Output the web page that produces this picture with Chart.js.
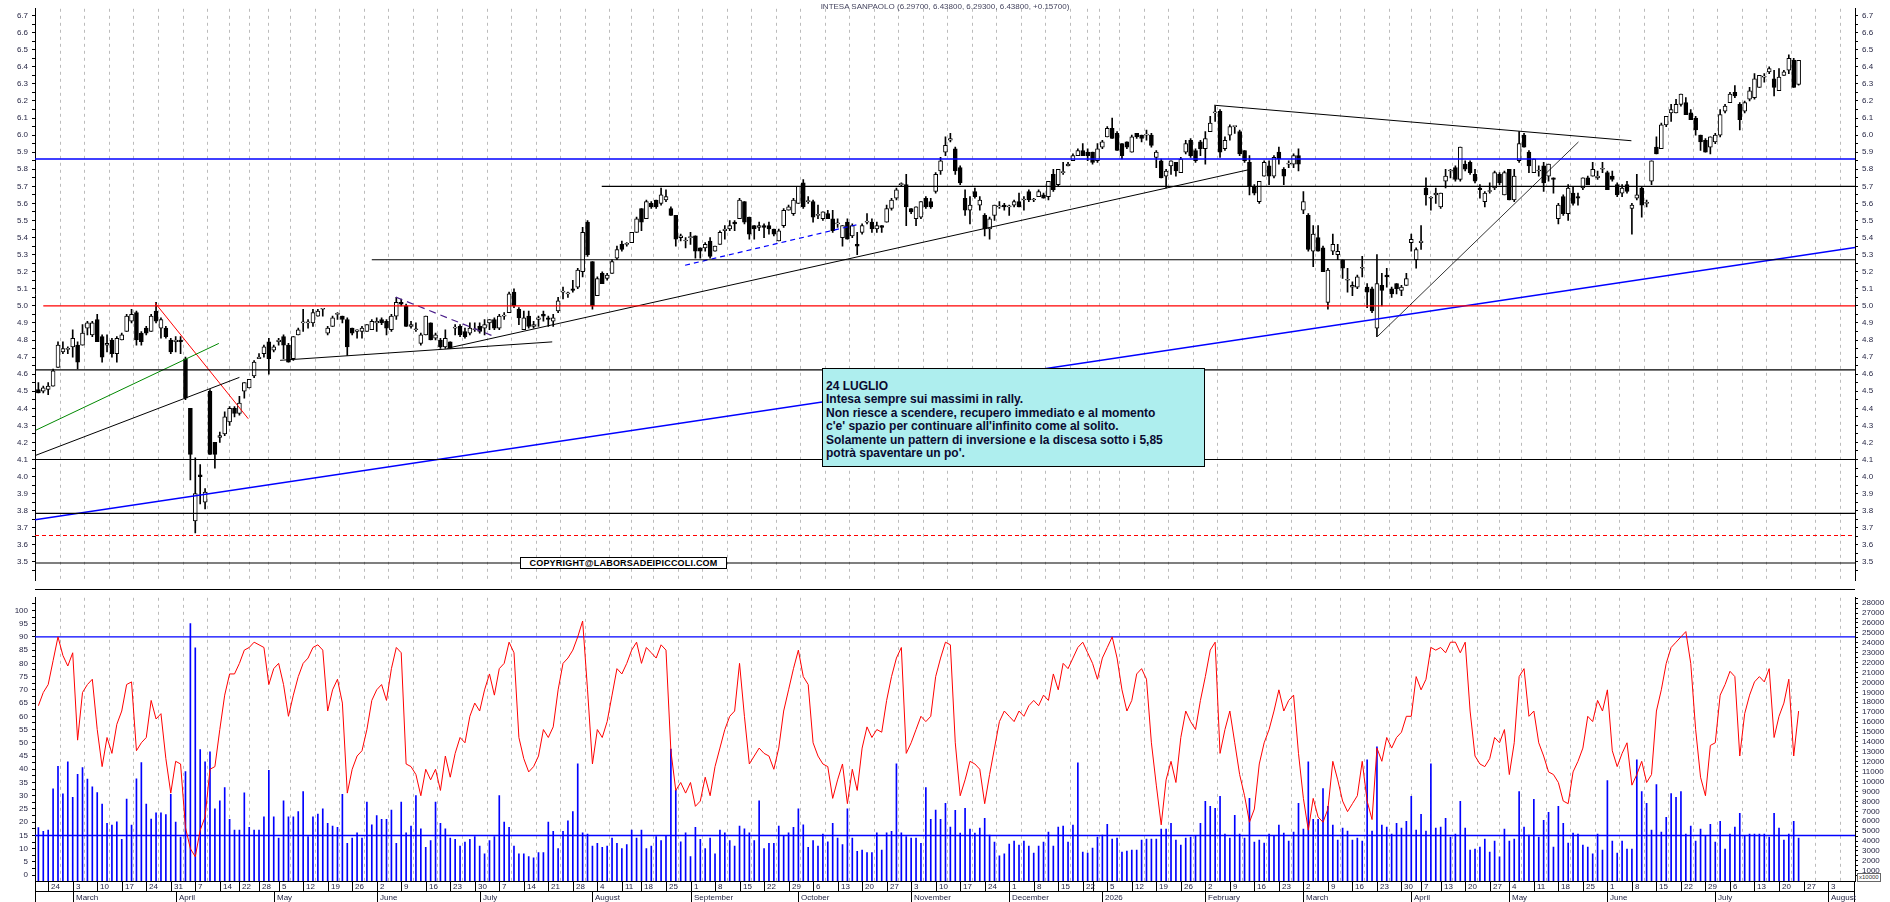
<!DOCTYPE html>
<html>
<head>
<meta charset="utf-8">
<title>Intesa Sanpaolo</title>
<script src="https://cdn.jsdelivr.net/npm/chart.js@4.4.1/dist/chart.umd.min.js"></script>
<style>
html, body { margin: 0; padding: 0; background: #fff; }
#wrap { position: relative; width: 1890px; height: 902px; overflow: hidden; background: #fff; }
#cTop { position: absolute; left: 0; top: 0; }
#cBot { position: absolute; left: 0; top: 589px; }
#title { position: absolute; left: 35px; top: 2px; width: 1820px; text-align: center;
         font: 8px "Liberation Sans", Arial, sans-serif; color: #44445e; }
#note { position: absolute; left: 822px; top: 368px; width: 383px; height: 99px; box-sizing: border-box;
        border: 1px solid #000; background: #aeeeee; padding: 11px 0 0 3px; white-space: nowrap;
        font: bold 12px/13.4px "Liberation Sans", Arial, sans-serif; color: #0a0a30; }
#copy { position: absolute; left: 520px; top: 557px; width: 207px; height: 12px; box-sizing: border-box;
        border: 1px solid #000; background: #fff; text-align: center;
        font: bold 9px/10px "Liberation Sans", Arial, sans-serif; color: #000; letter-spacing: 0.2px; }
#mult { position: absolute; left: 1857px; top: 873px; padding: 0 1px; border: 1px solid #666;
        font: 6px/7px "Liberation Sans", Arial, sans-serif; color: #333; background: #fff; }
</style>
</head>
<body>
<div id="wrap">
  <canvas id="cTop" width="1890" height="589"></canvas>
  <canvas id="cBot" width="1890" height="313"></canvas>
  <div id="title">INTESA SANPAOLO (6.29700, 6.43800, 6.29300, 6.43800, +0.15700)</div>
  <div id="note"></div>
  <div id="copy">COPYRIGHT@LABORSADEIPICCOLI.COM</div>
  <div id="mult">x10000</div>
</div>
<script>
// daily candles, 20 Feb 2025 .. 24 Jul 2026 (trading days only)
var opens = [
  4.51,4.50,4.51,4.53,4.64,4.73,4.745,4.76,4.77,4.77, 4.87,4.83,4.92,4.82,4.77,4.80,4.72,4.80,4.85,4.91,
  4.96,4.84,4.87,4.85,4.97,4.87,4.87,4.80,4.79,4.80, 4.69,4.40,3.74,4.01,3.85,4.50,4.20,4.23,4.25,4.32,
  4.40,4.37,4.50,4.52,4.59,4.69,4.72,4.79,4.74,4.79, 4.82,4.77,4.69,4.83,4.90,4.90,4.90,4.94,4.98,4.84,
  4.88,4.95,4.94,4.92,4.87,4.85,4.85,4.85,4.86,4.90, 4.92,4.91,4.86,4.94,5.02,5.00,4.88,4.86,4.78,4.83,
  4.90,4.81,4.80,4.76,4.79,4.87,4.88,4.85,4.84,4.86, 4.88,4.87,4.90,4.92,4.87,4.94,4.96,5.08,4.98,4.86,
  4.94,4.88,4.92,4.95,4.93,4.91,4.97,5.08,5.07,5.10, 5.11,5.20,5.49,5.26,5.06,5.19,5.16,5.19,5.28,5.36,
  5.36,5.37,5.43,5.57,5.51,5.60,5.62,5.60,5.62,5.57, 5.53,5.40,5.38,5.40,5.41,5.34,5.34,5.38,5.32,5.36,
  5.44,5.45,5.49,5.51,5.61,5.52,5.47,5.46,5.47,5.47, 5.45,5.38,5.47,5.56,5.54,5.60,5.72,5.61,5.61,5.53,
  5.51,5.54,5.51,5.48,5.40,5.49,5.41,5.36,5.43,5.49, 5.49,5.45,5.47,5.49,5.57,5.63,5.71,5.71,5.57,5.51,
  5.52,5.63,5.61,5.67,5.79,5.90,5.97,5.92,5.81,5.63, 5.56,5.67,5.59,5.53,5.45,5.53,5.58,5.59,5.58,5.59,
  5.61,5.62,5.67,5.62,5.64,5.65,5.64,5.77,5.71,5.78, 5.82,5.85,5.88,5.91,5.90,5.90,5.85,5.93,5.99,6.04,
  6.01,5.95,5.96,5.90,6.01,6.00,6.00,6.00,5.87,5.85, 5.76,5.82,5.84,5.78,5.90,5.97,5.91,5.96,5.92,6.02,
  6.13,6.14,5.92,6.00,6.05,6.02,5.91,5.84,5.70,5.61, 5.76,5.82,5.76,5.90,5.80,5.83,5.83,5.88,5.56,5.53,
  5.32,5.40,5.34,5.02,5.32,5.30,5.27,5.15,5.11,5.11, 5.22,5.11,5.10,4.87,5.12,5.18,5.10,5.13,5.09,5.12,
  5.37,5.27,5.37,5.69,5.63,5.65,5.58,5.73,5.79,5.81, 5.74,5.83,5.84,5.77,5.69,5.61,5.67,5.69,5.77,5.65,
  5.80,5.62,5.85,6.00,5.90,5.78,5.79,5.82,5.76,5.75, 5.51,5.64,5.54,5.66,5.64,5.69,5.75,5.76,5.75,5.80,
  5.78,5.76,5.71,5.66,5.71,5.57,5.63,5.69,5.60,5.73, 5.93,5.92,6.06,6.13,6.13,6.18,6.19,6.13,6.10,6.00,
  5.97,5.93,5.96,6.00,6.14,6.19,6.25,6.18,6.14,6.21, 6.22,6.28,6.34,6.37,6.33,6.26,6.35,6.38,6.44,6.297
];
var highs = [
  4.55,4.53,4.55,4.63,4.79,4.79,4.76,4.86,4.79,4.89, 4.91,4.91,4.95,4.83,4.83,4.81,4.82,4.84,4.95,4.98,
  4.97,4.85,4.88,4.95,5.02,4.93,4.88,4.81,4.82,4.82, 4.70,4.40,4.11,4.07,3.93,4.51,4.20,4.26,4.38,4.41,
  4.41,4.47,4.55,4.57,4.68,4.72,4.77,4.81,4.77,4.81, 4.83,4.78,4.82,4.87,4.98,4.92,4.98,4.98,4.98,4.88,
  4.94,4.96,4.94,4.93,4.87,4.86,4.88,4.89,4.92,4.93, 4.93,4.92,4.95,5.05,5.04,5.01,4.91,4.90,4.84,4.94,
  4.90,4.84,4.81,4.86,4.79,4.89,4.89,4.87,4.90,4.90, 4.90,4.92,4.92,4.93,4.95,4.96,5.08,5.10,4.99,4.97,
  4.97,4.91,4.94,4.97,4.94,4.95,5.05,5.11,5.08,5.15, 5.22,5.46,5.50,5.26,5.17,5.20,5.19,5.27,5.35,5.38,
  5.37,5.43,5.52,5.57,5.62,5.61,5.62,5.69,5.68,5.58, 5.53,5.42,5.40,5.43,5.41,5.34,5.37,5.40,5.35,5.44,
  5.47,5.50,5.50,5.63,5.61,5.52,5.47,5.49,5.48,5.49, 5.45,5.45,5.57,5.59,5.63,5.70,5.74,5.64,5.62,5.59,
  5.55,5.56,5.56,5.51,5.47,5.51,5.48,5.43,5.48,5.54, 5.51,5.49,5.47,5.59,5.63,5.69,5.72,5.77,5.57,5.58,
  5.61,5.64,5.63,5.78,5.87,5.99,6.01,5.93,5.82,5.68, 5.64,5.69,5.64,5.54,5.52,5.59,5.61,5.60,5.59,5.62,
  5.66,5.64,5.68,5.63,5.68,5.66,5.73,5.80,5.80,5.84, 5.84,5.89,5.92,5.95,5.92,5.90,5.95,5.97,6.05,6.10,
  6.02,5.95,5.96,6.00,6.01,6.00,6.03,6.01,5.91,5.86, 5.80,5.85,5.84,5.87,5.97,5.98,5.92,5.97,6.02,6.11,
  6.17,6.15,5.99,6.06,6.05,6.03,5.91,5.88,5.71,5.73, 5.85,5.85,5.88,5.93,5.81,5.85,5.89,5.92,5.67,5.54,
  5.47,5.47,5.35,5.22,5.42,5.36,5.27,5.22,5.14,5.18, 5.29,5.13,5.11,5.30,5.19,5.22,5.11,5.13,5.12,5.19,
  5.42,5.34,5.47,5.75,5.64,5.69,5.66,5.80,5.80,5.82, 5.93,5.85,5.85,5.80,5.71,5.67,5.72,5.79,5.78,5.79,
  5.80,5.80,6.02,6.01,5.91,5.86,5.82,5.84,5.83,5.75, 5.60,5.65,5.71,5.70,5.66,5.75,5.76,5.84,5.79,5.84,
  5.79,5.79,5.72,5.71,5.73,5.60,5.77,5.70,5.62,5.85, 5.99,6.07,6.11,6.18,6.21,6.24,6.22,6.15,6.11,6.00,
  5.98,5.99,6.01,6.15,6.18,6.25,6.29,6.19,6.20,6.28, 6.36,6.35,6.36,6.40,6.38,6.39,6.38,6.47,6.45,6.438
];
var lows = [
  4.49,4.49,4.48,4.53,4.64,4.72,4.72,4.70,4.63,4.77, 4.83,4.82,4.79,4.67,4.73,4.70,4.67,4.80,4.85,4.90,
  4.77,4.77,4.83,4.85,4.90,4.81,4.81,4.72,4.73,4.72, 4.45,3.98,3.67,3.84,3.81,4.13,4.05,4.20,4.24,4.30,
  4.35,4.36,4.46,4.52,4.58,4.69,4.70,4.60,4.73,4.77, 4.69,4.67,4.68,4.83,4.85,4.87,4.88,4.94,4.94,4.83,
  4.88,4.92,4.90,4.71,4.83,4.81,4.81,4.85,4.86,4.85, 4.89,4.83,4.85,4.92,5.00,4.88,4.87,4.85,4.77,4.83,
  4.80,4.80,4.75,4.75,4.75,4.83,4.82,4.81,4.83,4.85, 4.84,4.83,4.86,4.86,4.86,4.92,4.96,4.99,4.89,4.86,
  4.87,4.87,4.88,4.91,4.88,4.88,4.96,5.04,5.05,5.08, 5.10,5.17,5.29,4.98,5.06,5.13,5.15,5.19,5.27,5.32,
  5.35,5.37,5.43,5.44,5.51,5.57,5.57,5.59,5.61,5.53, 5.35,5.38,5.34,5.36,5.28,5.28,5.32,5.28,5.32,5.36,
  5.39,5.44,5.44,5.51,5.48,5.39,5.39,5.44,5.40,5.42, 5.41,5.38,5.46,5.56,5.53,5.60,5.57,5.60,5.49,5.51,
  5.50,5.51,5.43,5.46,5.35,5.39,5.40,5.30,5.42,5.48, 5.43,5.43,5.43,5.49,5.56,5.62,5.70,5.47,5.54,5.47,
  5.51,5.57,5.57,5.66,5.77,5.88,5.96,5.77,5.71,5.53, 5.48,5.63,5.56,5.41,5.39,5.50,5.57,5.56,5.53,5.58,
  5.58,5.56,5.61,5.61,5.64,5.63,5.62,5.67,5.70,5.77, 5.82,5.85,5.88,5.88,5.85,5.83,5.84,5.92,5.99,5.98,
  5.91,5.86,5.92,5.90,5.98,5.96,5.97,5.93,5.81,5.75, 5.69,5.77,5.76,5.78,5.89,5.87,5.84,5.88,5.83,6.02,
  6.08,5.87,5.91,5.97,6.01,5.88,5.84,5.65,5.65,5.60, 5.76,5.71,5.75,5.83,5.71,5.81,5.81,5.79,5.54,5.32,
  5.23,5.32,5.20,4.98,5.30,5.27,5.16,5.08,5.06,5.10, 5.17,4.99,4.96,4.82,5.00,5.11,5.05,5.07,5.06,5.12,
  5.32,5.22,5.33,5.59,5.56,5.60,5.57,5.69,5.75,5.73, 5.73,5.79,5.77,5.72,5.63,5.58,5.66,5.68,5.71,5.65,
  5.62,5.61,5.84,5.93,5.78,5.78,5.76,5.67,5.73,5.66, 5.48,5.53,5.50,5.59,5.59,5.68,5.71,5.76,5.74,5.78,
  5.68,5.73,5.64,5.64,5.66,5.42,5.62,5.52,5.58,5.71, 5.89,5.92,6.05,6.08,6.13,6.17,6.12,6.09,6.00,5.91,
  5.90,5.89,5.95,5.99,6.13,6.19,6.22,6.03,6.13,6.20, 6.21,6.28,6.31,6.36,6.23,6.26,6.35,6.36,6.28,6.293
];
var closes = [
  4.49,4.52,4.53,4.62,4.77,4.75,4.745,4.81,4.67,4.84, 4.90,4.90,4.79,4.70,4.78,4.72,4.81,4.83,4.94,4.95,
  4.80,4.79,4.84,4.94,4.91,4.92,4.82,4.73,4.80,4.79, 4.46,4.13,3.90,4.00,3.91,4.13,4.13,4.24,4.35,4.40,
  4.37,4.43,4.55,4.57,4.67,4.70,4.76,4.69,4.76,4.80, 4.77,4.67,4.82,4.86,4.90,4.90,4.96,4.97,4.98,4.87,
  4.93,4.95,4.92,4.76,4.84,4.86,4.87,4.89,4.91,4.91, 4.90,4.87,4.94,5.02,5.01,4.88,4.89,4.86,4.83,4.94,
  4.80,4.83,4.76,4.81,4.75,4.87,4.83,4.82,4.87,4.86, 4.85,4.89,4.92,4.87,4.94,4.94,5.07,5.00,4.93,4.93,
  4.88,4.89,4.93,4.94,4.92,4.93,5.03,5.08,5.07,5.09, 5.21,5.43,5.30,5.00,5.16,5.13,5.18,5.26,5.33,5.33,
  5.36,5.43,5.51,5.49,5.61,5.58,5.58,5.65,5.64,5.53, 5.39,5.41,5.38,5.40,5.32,5.32,5.36,5.29,5.35,5.43,
  5.45,5.47,5.48,5.62,5.49,5.42,5.45,5.47,5.46,5.45, 5.42,5.44,5.56,5.58,5.62,5.70,5.58,5.61,5.52,5.53,
  5.55,5.51,5.44,5.48,5.47,5.39,5.47,5.35,5.47,5.49, 5.45,5.47,5.46,5.57,5.62,5.68,5.71,5.58,5.55,5.58,
  5.61,5.58,5.58,5.77,5.85,5.94,5.98,5.79,5.72,5.56, 5.59,5.64,5.62,5.45,5.51,5.59,5.58,5.58,5.58,5.61,
  5.58,5.62,5.62,5.62,5.67,5.63,5.73,5.68,5.80,5.78, 5.83,5.88,5.91,5.88,5.88,5.84,5.92,5.96,6.04,5.98,
  5.91,5.88,5.93,5.99,5.99,5.98,6.00,5.94,5.90,5.75, 5.79,5.85,5.79,5.86,5.95,5.88,5.85,5.92,5.98,6.07,
  6.13,5.90,5.97,6.05,6.05,5.89,5.85,5.70,5.66,5.73, 5.84,5.76,5.87,5.86,5.76,5.83,5.88,5.83,5.61,5.33,
  5.42,5.32,5.20,5.21,5.36,5.32,5.22,5.15,5.12,5.17, 5.22,5.08,4.97,5.13,5.09,5.17,5.07,5.10,5.11,5.16,
  5.39,5.33,5.38,5.65,5.63,5.66,5.66,5.76,5.79,5.74, 5.93,5.80,5.78,5.73,5.68,5.66,5.67,5.78,5.72,5.78,
  5.62,5.76,5.95,5.93,5.82,5.86,5.79,5.72,5.83,5.74, 5.59,5.54,5.69,5.60,5.63,5.75,5.71,5.80,5.76,5.80,
  5.68,5.74,5.65,5.69,5.67,5.59,5.65,5.59,5.60,5.85, 5.89,6.06,6.11,6.15,6.18,6.24,6.12,6.09,6.03,5.96,
  5.90,5.99,6.00,6.12,6.17,6.24,6.23,6.09,6.19,6.26, 6.33,6.35,6.34,6.39,6.28,6.34,6.37,6.45,6.28,6.438
];
// oscillator, lower panel (left scale 0-100)
var oscillator = [
  64,69,72,81,90,83,79,84,51,69, 72,74,55,41,52,46,57,62,72,73, 47,50,52,66,59,61,44,31,43,42,
  18,10,7,17,22,40,41,55,68,76, 76,80,85,86,88,87,86,72,78,80, 72,60,68,75,80,82,86,87,85,62,
  70,74,65,31,40,45,47,55,66,70, 72,66,78,86,84,42,41,38,30,40, 36,40,32,45,37,46,52,50,60,65,
  62,70,76,68,78,80,88,84,52,44, 39,41,45,55,52,56,70,80,82,85, 90,96,70,42,55,52,58,68,78,76,
  80,85,88,80,86,84,82,87,85,47, 32,35,31,35,26,28,37,30,41,48, 55,60,62,80,60,42,45,48,46,45,
  40,48,62,70,78,85,75,72,50,45, 42,41,29,36,42,27,40,32,48,56, 52,55,54,66,75,82,86,46,50,55,
  60,58,60,75,82,88,87,50,30,36, 43,42,40,27,38,48,58,62,60,58, 62,60,64,66,64,68,66,76,70,80,
  78,82,86,88,84,80,74,82,86,90, 82,70,62,66,76,78,74,50,34,19, 36,43,35,52,62,58,55,66,75,85,
  88,46,55,62,50,38,30,20,25,42, 50,55,62,70,62,66,68,46,29,17, 29,22,20,25,43,36,28,24,27,30,
  43,28,21,48,43,52,48,52,54,60, 60,75,70,74,86,85,86,84,88,88, 84,88,62,45,42,41,44,52,50,55,
  38,50,75,78,60,62,50,45,39,38, 35,28,27,39,43,48,60,58,66,62, 70,47,41,46,50,34,38,43,35,38,
  62,70,80,86,88,90,92,80,55,37, 30,49,50,68,72,77,75,45,61,68, 73,75,73,78,52,60,65,74,45,62
];
// volume, lower panel (right scale, x10000)
var volume = [
  5350,4980,5110,9280,11530,8770,11990,8400,10730,11420, 10250,9470,8880,7730,5780,5620,5940,4170,8240,5620,
  10270,11910,7730,6230,6850,6850,6660,8720,5910,4390, 11000,25930,23490,13220,12000,13000,7250,8050,9390,6180,
  5110,5110,8860,5380,5110,5110,6450,11130,6450,4310, 8050,6450,6450,6980,8990,4440,6450,6710,7250,5780,
  5510,5380,8720,3770,4310,4840,4310,7920,5640,6580, 6180,6180,7120,3770,7920,4840,5510,8590,5240,3370,
  4040,7920,5780,5240,4310,4170,3500,3900,4170,4440, 3500,2700,4040,4440,8590,5910,5380,3500,2700,2700,
  2430,2300,2830,2830,5910,4980,3240,4980,6050,6980, 11800,4840,4710,3500,3770,3370,3500,4310,3770,3240,
  3640,5110,4310,5110,3240,3500,4440,4040,4570,13270, 9120,3910,4840,2430,5380,4170,3240,4310,2700,5110,
  4840,4040,3500,5510,5240,4840,4040,8050,3240,3770, 3770,5510,4570,4840,5380,7250,5640,3370,4040,3500,
  4710,3910,5780,4310,3640,7250,4310,2970,3100,2830, 2830,4840,3100,4840,4980,11800,4840,4440,4310,4310,
  3770,9390,6180,7120,6200,7800,5400,7100,4800,7300, 5200,4800,5300,6300,4600,3900,2500,2700,3700,4000,
  3600,4000,3500,2800,3500,3900,4900,3500,5400,5500, 3900,5600,11900,2900,2800,3300,4400,4600,5700,4200,
  4300,2900,3000,3100,3100,4100,4200,4200,4200,5200, 5200,5800,4100,3600,4300,4400,4500,5800,8000,7500,
  7300,8500,4700,4300,6600,4700,4300,8300,3900,4100, 3800,4700,4500,5600,4800,4000,4900,7800,5200,12000,
  6200,6200,9300,7500,5600,4100,5300,5000,4100,4300, 4000,12200,5000,13500,5600,5400,4700,5800,5300,6000,
  8500,5100,6700,5000,11800,5300,5400,6300,4400,4700, 8000,5300,3100,3200,3400,4200,2900,4000,2400,5200,
  4000,4200,9000,5400,4600,8200,4400,6100,6900,3400, 7500,5800,3800,4800,4700,3600,3400,2700,4700,3100,
  10100,4000,2800,4000,3200,3200,12200,9000,7800,5100, 9700,4900,6400,8800,8400,9000,4700,5500,4000,5200,
  4500,5700,3900,6000,3200,4700,5400,6800,4500,4700, 4700,4700,4700,4400,6800,5300,4100,4700,6000,4300
];

// x axis: first trading day of each week / month (trading-day index) and their labels
var weekIdx = [2,7,12,17,22,27,32,37,41,45,49,54,59,64,69,74,79,84,89,94,99,104,109,114,119,123,128,133,138,143,
  148,153,158,163,168,173,178,183,188,193,198,203,208,213,215,218,223,228,233,238,243,248,253,258,263,268,273,278,282,286,
  291,296,300,305,310,315,320,325,330,335,340,345,350,355,360,365];
var weekDay = ['24','3','10','17','24','31','7','14','22','28','5','12','19','26','2','9','16','23','30','7','14','21','28','4','11','18','25','1','8','15',
  '22','29','6','13','20','27','3','10','17','24','1','8','15','22','','5','12','19','26','2','9','16','23','2','9','16','23','30','7','13',
  '20','27','4','11','18','25','1','8','15','22','29','6','13','20','27','3'];
var monthIdx = [7,28,48,69,90,113,133,155,178,198,217,238,258,280,300,320,342,365];
var monthName = ['March','April','May','June','July','August','September','October','November','December','2026',
  'February','March','April','May','June','July','August'];

// y axis labels
var priceTicks = [3.5,3.6,3.7,3.8,3.9,4.0,4.1,4.2,4.3,4.4,4.5,4.6,4.7,4.8,4.9,5.0,5.1,5.2,5.3,5.4,5.5,5.6,5.7,5.8,5.9,6.0,6.1,6.2,6.3,6.4,6.5,6.6,6.7];
var oscTicks = [0,5,10,15,20,25,30,35,40,45,50,55,60,65,70,75,80,85,90,95,100];
var volTicks = [1000,2000,3000,4000,5000,6000,7000,8000,9000,10000,11000,12000,13000,14000,15000,16000,17000,18000,19000,20000,
  21000,22000,23000,24000,25000,26000,27000,28000];

// horizontal price levels and the trading-day index where each one starts
var levelPrice = [5.86, 5.70, 5.27, 5.00, 4.625, 4.10, 3.785, 3.655, 3.494];
var levelFrom  = [-0.69, 114.9, 68.0, 1.0, -0.69, -0.69, -0.69, -0.69, -0.69];
// trend lines: [start index, start price, end index, end price]
var trendLines = [
  [-0.69, 3.747, 370.5, 5.342],
  [-0.5, 4.272, 36.8, 4.780],
  [-0.5, 4.125, 41.0, 4.581],
  [23.8, 5.017, 42.8, 4.339],
  [49.3, 4.681, 104.8, 4.789],
  [83.3, 4.751, 246.8, 5.797],
  [72.9, 5.051, 93.0, 4.820],
  [131.9, 5.238, 166.9, 5.475],
  [239.8, 6.175, 324.9, 5.967],
  [273.2, 4.823, 314.1, 5.960]
];
// oscillator reference levels
var oscLevels = [90, 15];

var noteLines = [
  '24 LUGLIO',
  'Intesa sempre sui massimi in rally.',
  'Non riesce a scendere, recupero immediato e al momento',
  "c'e' spazio per continuare all'infinito come al solito.",
  'Solamente un pattern di inversione e la discesa sotto i 5,85',
  "potrà spaventare un po'."
];

// ---------------------------------------------------------------
var FAMILY = '"Liberation Sans", Arial, Helvetica, sans-serif';
var TICK_COLOR = '#262644';
var X_MIN = -0.69, X_MAX = 370.5;

document.getElementById('note').innerHTML = noteLines.map(function (s) {
  return s.replace(/&/g, '&amp;').replace(/</g, '&lt;');
}).join('<br>');

var levelStyle = [
  {color: '#0000ff', width: 1.4},
  {color: '#000000', width: 1.2},
  {color: '#000000', width: 1.2},
  {color: '#ff0000', width: 1.4},
  {color: '#000000', width: 1.2},
  {color: '#000000', width: 1.2},
  {color: '#000000', width: 1.2},
  {color: '#ff0000', width: 1.2, dash: [4, 3]},
  {color: '#000000', width: 1.2}
];
var trendStyle = [
  {color: '#0000ff', width: 1.4},
  {color: '#008800', width: 1},
  {color: '#000000', width: 1},
  {color: '#ff0000', width: 1},
  {color: '#000000', width: 1},
  {color: '#000000', width: 1},
  {color: '#4b1f8a', width: 1.2, dash: [7, 5]},
  {color: '#0000ff', width: 1.2, dash: [5, 4]},
  {color: '#000000', width: 1},
  {color: '#000000', width: 0.8}
];

function lineSet(points, style, yAxisID, order) {
  return {
    type: 'line', data: points, yAxisID: yAxisID, order: order,
    borderColor: style.color, borderWidth: style.width, borderDash: style.dash || [],
    pointRadius: 0, fill: false, tension: 0
  };
}

function xAxis() {
  return {
    type: 'linear', min: X_MIN, max: X_MAX, offset: false,
    afterBuildTicks: function (s) { s.ticks = weekIdx.map(function (v) { return {value: v}; }); },
    afterFit: function (s) { s.height = 0; },
    ticks: {display: false},
    grid: {color: '#bbbbbb', lineWidth: 1, drawTicks: false},
    border: {display: false, dash: [3, 4]}
  };
}

function yAxis(pos, min, max, major, step, digits) {
  var keys = {};
  major.forEach(function (v) { keys[v.toFixed(3)] = true; });
  var all = [];
  major.forEach(function (v) { all.push(v, v + step); });
  all.push(major[0] - step);
  all = all.filter(function (v) { return v >= min && v <= max; }).sort(function (a, b) { return a - b; });
  return {
    type: 'linear', position: pos, min: min, max: max,
    afterBuildTicks: function (s) { s.ticks = all.map(function (v) { return {value: v}; }); },
    afterFit: function (s) { s.width = 35; },
    ticks: {
      autoSkip: false, padding: 4, color: TICK_COLOR, font: {family: FAMILY, size: 8},
      callback: function (v) { return keys[v.toFixed(3)] ? v.toFixed(digits) : ''; }
    },
    grid: {drawOnChartArea: false, drawTicks: true, tickLength: 3, color: '#000'},
    border: {display: true, color: '#000', width: 1}
  };
}

var idx = closes.map(function (c, i) { return i; });

// ---- price panel
var priceSets = [];
levelPrice.forEach(function (p, k) {
  priceSets.push(lineSet([{x: levelFrom[k], y: p}, {x: X_MAX, y: p}], levelStyle[k], 'y', 0));
});
trendLines.forEach(function (t, k) {
  priceSets.push(lineSet([{x: t[0], y: t[1]}, {x: t[2], y: t[3]}], trendStyle[k], 'y', 0));
});
priceSets.push({
  type: 'bar', order: 1, yAxisID: 'y', grouped: false,
  data: idx.map(function (i) { return {x: i, y: [opens[i], closes[i]]}; }),
  backgroundColor: idx.map(function (i) { return closes[i] < opens[i] ? '#000' : '#fff'; }),
  borderColor: '#000', borderWidth: 1, borderSkipped: false, barThickness: 4, minBarLength: 1
});
priceSets.push({
  type: 'bar', order: 2, yAxisID: 'y', grouped: false,
  data: idx.map(function (i) { return {x: i, y: [lows[i], highs[i]]}; }),
  backgroundColor: '#000', borderWidth: 0, barThickness: 1, minBarLength: 1
});

var baseOptions = function (padBottom) {
  return {
    responsive: false, animation: false, events: [],
    layout: {padding: {left: 0, right: 0, top: 0, bottom: padBottom}, autoPadding: false},
    plugins: {legend: {display: false}, tooltip: {enabled: false}, title: {display: false}}
  };
};

var optTop = baseOptions(0);
optTop.scales = {
  x: xAxis(),
  y: yAxis('left', 3.3932, 6.7398, priceTicks, 0.05, 1),
  yR: yAxis('right', 3.3932, 6.7398, priceTicks, 0.05, 1)
};
new Chart(document.getElementById('cTop'), {type: 'bar', data: {datasets: priceSets}, options: optTop});

// ---- oscillator / volume panel
var axisRows = {
  id: 'axisRows',
  afterDraw: function (chart) {
    var ctx = chart.ctx, a = chart.chartArea, x = chart.scales.x, y0 = a.bottom;
    ctx.save();
    ctx.strokeStyle = '#000';
    ctx.lineWidth = 1;
    ctx.beginPath();
    ctx.moveTo(a.left, 0.5); ctx.lineTo(a.right, 0.5);
    ctx.moveTo(a.left, y0 + 0.5); ctx.lineTo(a.right, y0 + 0.5);
    ctx.moveTo(a.left, y0 + 10.5); ctx.lineTo(a.right, y0 + 10.5);
    ctx.moveTo(a.left + 0.5, y0); ctx.lineTo(a.left + 0.5, y0 + 21);
    ctx.moveTo(a.right - 0.5, y0); ctx.lineTo(a.right - 0.5, y0 + 21);
    weekIdx.forEach(function (i) {
      var px = Math.round(x.getPixelForValue(i)) + 0.5;
      ctx.moveTo(px, y0); ctx.lineTo(px, y0 + 10);
    });
    monthIdx.forEach(function (i) {
      var px = Math.round(x.getPixelForValue(i)) + 0.5;
      ctx.moveTo(px, y0 + 10); ctx.lineTo(px, y0 + 21);
    });
    ctx.stroke();
    ctx.fillStyle = '#1c1c3c';
    ctx.font = '8px ' + FAMILY;
    ctx.textBaseline = 'middle';
    ctx.textAlign = 'left';
    weekIdx.forEach(function (i, k) {
      ctx.fillText(weekDay[k], Math.round(x.getPixelForValue(i)) + 3, y0 + 6);
    });
    monthIdx.forEach(function (i, k) {
      ctx.fillText(monthName[k], Math.round(x.getPixelForValue(i)) + 3, y0 + 16.5);
    });
    ctx.restore();
  }
};

var lowSets = [
  lineSet(idx.map(function (i) { return {x: i, y: oscillator[i]}; }), {color: '#ff0000', width: 1}, 'yo', 0)
];
oscLevels.forEach(function (v) {
  lowSets.push(lineSet([{x: X_MIN, y: v}, {x: X_MAX, y: v}], {color: '#0000ff', width: 1.4}, 'yo', 1));
});
lowSets.push({
  type: 'bar', order: 2, yAxisID: 'yv', grouped: false,
  data: idx.map(function (i) { return {x: i, y: volume[i]}; }),
  backgroundColor: '#0000ff', borderWidth: 0, barThickness: 1
});

var optBot = baseOptions(21);
optBot.scales = {
  x: xAxis(),
  yo: yAxis('left', -2.2, 104.76, oscTicks, 2.5, 0),
  yv: yAxis('right', -29, 28540, volTicks, 500, 0)
};
new Chart(document.getElementById('cBot'), {type: 'bar', data: {datasets: lowSets}, options: optBot, plugins: [axisRows]});
</script>
</body>
</html>
